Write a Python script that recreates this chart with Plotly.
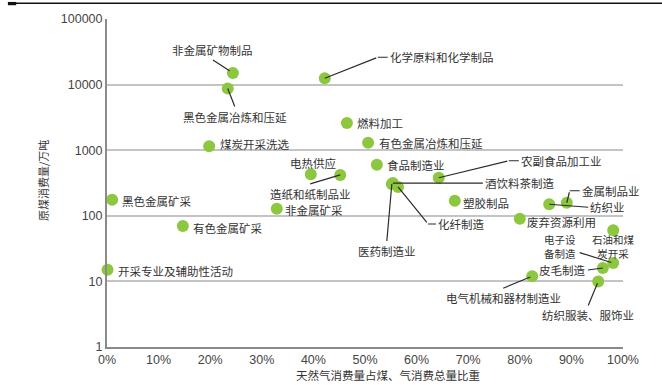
import numpy as np
import plotly.graph_objects as go

# 行业名称、天然气占煤气消费总量比重(%)、原煤消费量(万吨)
industries = [
    "非金属矿物制品", "黑色金属冶炼和压延", "化学原料和化学制品", "煤炭开采洗选",
    "燃料加工", "有色金属冶炼和压延", "食品制造业", "电热供应", "造纸和纸制品业",
    "非金属矿采", "农副食品加工业", "医药制造业", "酒饮料茶制造", "化纤制造",
    "塑胶制品", "金属制品业", "纺织业", "废弃资源利用", "石油和煤炭开采",
    "电子设备制造", "皮毛制造", "电气机械和器材制造业", "纺织服装、服饰业",
    "黑色金属矿采", "有色金属矿采", "开采专业及辅助性活动",
]
gas_share = [
    24.4, 23.4, 42.2, 19.8,
    46.5, 50.6, 52.3, 39.5, 45.2,
    32.9, 64.3, 55.2, 55.4, 56.4,
    67.4, 89.1, 85.7, 80.0, 98.1,
    98.1, 96.1, 82.4, 95.2,
    1.0, 14.7, 0.1,
]
coal_use = [
    15000, 8700, 12500, 1150,
    2600, 1300, 600, 430, 420,
    128, 380, 305, 315, 275,
    170, 158, 150, 90, 60,
    19, 16, 12, 10,
    175, 70, 15,
]

x_ticks = [0, 10, 20, 30, 40, 50, 60, 70, 80, 90, 100]
x_ticktext = [f"{v}%" for v in x_ticks]
y_ticks = [1, 10, 100, 1000, 10000, 100000]
y_ticktext = ["1", "10", "100", "1000", "10000", "100000"]

x_title = "天然气消费量占煤、气消费总量比重"
y_title = "原煤消费量/万吨"

# 标注样式: 像素偏移 (右为正, 下为正)
label_style = {
    "非金属矿物制品": ("leader", -20, -13, "center", "bottom", 4),
    "黑色金属冶炼和压延": ("leader", 7, 18, "center", "top", 0),
    "化学原料和化学制品": ("elbow", 53, -21, 10),
    "煤炭开采洗选": ("side", 9, -2),
    "燃料加工": ("side", 8, 0),
    "有色金属冶炼和压延": ("side", 9, 0),
    "食品制造业": ("side", 8, 0),
    "电热供应": ("above", 2, -11),
    "造纸和纸制品业": ("leader", -30, 9, "center", "top", 0),
    "非金属矿采": ("side", 6, 1),
    "农副食品加工业": ("elbow", 70, -17, 10),
    "医药制造业": ("leader", -5, 57, "center", "top", 0),
    "酒饮料茶制造": ("leader", 90, 0, "left", "middle", 0),
    "化纤制造": ("elbow", 30, 37, 8),
    "塑胶制品": ("side", 6, 2),
    "金属制品业": ("elbow", 3, -12, 10),
    "纺织业": ("leader", 39, 3, "left", "middle", 0),
    "废弃资源利用": ("side", 5, 3),
    "石油和煤炭开采": ("block", "石油和煤<br>炭开采", 0, 16.5, "center", None),
    "电子设备制造": ("block", "电子设<br>备制造", -35, -17, "right", (-35, -11)),
    "皮毛制造": ("leader", -15, 2, "right", "middle", 0),
    "电气机械和器材制造业": ("leader", -29, 12, "center", "top", 2),
    "纺织服装、服饰业": ("leader", -10, 24, "center", "top", 2),
    "黑色金属矿采": ("side", 8, 1),
    "有色金属矿采": ("side", 8, 2),
    "开采专业及辅助性活动": ("side", 8, 1),
}

CJK = "Noto Sans CJK SC"
LATIN = "Liberation Sans"
TEXT_COLOR = "#333333"
LINE_COLOR = "#2b2b2b"
label_font = dict(family=CJK, size=11.5, color=TEXT_COLOR)
block_font = dict(family=CJK, size=10.5, color=TEXT_COLOR)
leader_line = dict(arrowhead=0, arrowwidth=1.2, arrowcolor=LINE_COLOR)

fig = go.Figure()
fig.add_trace(go.Scatter(
    x=gas_share, y=coal_use, mode="markers",
    marker=dict(size=12, color="#8DC63F", line=dict(width=0)),
    cliponaxis=False, hoverinfo="text", text=industries,
))

annotations = []
for name, gx, cy in zip(industries, gas_share, coal_use):
    spec = label_style[name]
    ly = float(np.log10(cy))
    kind = spec[0]
    if kind == "side":
        annotations.append(dict(x=gx, y=ly, text=name, showarrow=False,
                                xanchor="left", yanchor="middle",
                                xshift=spec[1], yshift=-spec[2], font=label_font))
    elif kind == "above":
        annotations.append(dict(x=gx, y=ly, text=name, showarrow=False,
                                xanchor="center", yanchor="middle",
                                xshift=spec[1], yshift=-spec[2], font=label_font))
    elif kind == "block":
        # 两行标签
        _, txt, dx, dy, xa, lead = spec
        annotations.append(dict(x=gx, y=ly, text=txt, showarrow=False,
                                xanchor=xa, yanchor="middle", align=xa if xa != "right" else "left",
                                xshift=dx, yshift=-dy, font=block_font))
        if lead is not None:
            annotations.append(dict(x=gx, y=ly, text="", showarrow=True,
                                    ax=lead[0], ay=lead[1], standoff=2,
                                    **leader_line))
    elif kind == "leader":
        _, ax, ay, xa, ya, stand = spec
        annotations.append(dict(x=gx, y=ly, text=name, showarrow=True,
                                ax=ax, ay=ay, xanchor=xa, yanchor=ya,
                                standoff=stand, font=label_font, **leader_line))
    elif kind == "elbow":
        _, cx, cyp, seg = spec
        # 斜线段
        annotations.append(dict(x=gx, y=ly, text="", showarrow=True,
                                ax=cx, ay=cyp, standoff=0, **leader_line))
        # 水平段 + 文字
        annotations.append(dict(x=gx, y=ly, text=name, showarrow=True,
                                xshift=cx, yshift=-cyp, ax=seg, ay=0,
                                xanchor="left", yanchor="middle", standoff=0,
                                font=label_font, **leader_line))

# 坐标轴标题
annotations.append(dict(xref="paper", yref="paper", x=0.545, y=-0.085,
                        text=x_title, showarrow=False, xanchor="center",
                        yanchor="middle", font=dict(family=CJK, size=11.5, color=TEXT_COLOR)))
annotations.append(dict(xref="paper", yref="paper", x=-0.124, y=0.506,
                        text=y_title, showarrow=False, textangle=-90,
                        xanchor="center", yanchor="middle",
                        font=dict(family=CJK, size=11, color=TEXT_COLOR)))

# 顶部装饰线
shapes = [
    dict(type="line", xref="paper", yref="paper", x0=-0.192, x1=1.08,
         y0=1.048, y1=1.048, line=dict(color="#111111", width=1.5)),
    dict(type="rect", xref="paper", yref="paper", x0=-0.192, x1=-0.176,
         y0=1.042, y1=1.052, fillcolor="#111111", line=dict(width=0)),
]

fig.update_layout(
    width=662, height=385,
    margin=dict(l=107, r=39, t=17, b=38),
    paper_bgcolor="white", plot_bgcolor="white",
    showlegend=False,
    annotations=annotations,
    shapes=shapes,
    font=dict(family=LATIN, size=12.5, color="#444444"),
    xaxis=dict(
        range=[0, 100], tickvals=x_ticks, ticktext=x_ticktext,
        showgrid=False, zeroline=False, showline=True,
        linecolor="#8a8a8a", linewidth=2, ticks="",
        tickfont=dict(family=LATIN, size=12.5, color="#444444"),
    ),
    yaxis=dict(
        type="log", range=[0, 5], tickvals=y_ticks, ticktext=y_ticktext,
        showgrid=True, gridcolor="#c4c4c4", gridwidth=1.5,
        zeroline=False, showline=True, linecolor="#8a8a8a", linewidth=2,
        ticks="", tickfont=dict(family=LATIN, size=12.5, color="#444444"),
    ),
)

fig.write_html("out.html")
